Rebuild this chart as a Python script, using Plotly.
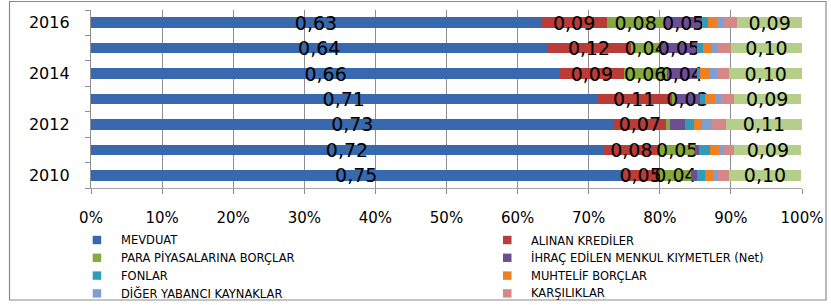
import plotly.graph_objects as go

years = [2010, 2011, 2012, 2013, 2014, 2015, 2016]
year_ticks = [2010, 2012, 2014, 2016]

series_names = [
    "MEVDUAT", "ALINAN KREDİLER", "PARA PİYASALARINA BORÇLAR",
    "İHRAÇ EDİLEN MENKUL KIYMETLER (Net)", "FONLAR", "MUHTELİF BORÇLAR",
    "DİĞER YABANCI KAYNAKLAR", "KARŞILIKLAR", "ÖZKAYNAKLAR",
]
mevduat = [0.746, 0.720, 0.735, 0.711, 0.660, 0.642, 0.633]
alinan = [0.054, 0.080, 0.074, 0.106, 0.089, 0.117, 0.093]
para = [0.044, 0.049, 0.006, 0.005, 0.061, 0.042, 0.080]
ihrac = [0.008, 0.006, 0.020, 0.034, 0.042, 0.052, 0.054]
fonlar = [0.012, 0.015, 0.013, 0.008, 0.004, 0.008, 0.008]
muhtelif = [0.011, 0.013, 0.011, 0.013, 0.014, 0.013, 0.013]
diger = [0.007, 0.006, 0.014, 0.009, 0.010, 0.008, 0.009]
karsilik = [0.015, 0.016, 0.020, 0.018, 0.018, 0.018, 0.018]
ozkaynak = [0.102, 0.094, 0.107, 0.094, 0.102, 0.100, 0.093]

series_values = [mevduat, alinan, para, ihrac, fonlar, muhtelif, diger, karsilik, ozkaynak]
colors = ["#3868AE", "#B93C38", "#86A83E", "#6B4E94", "#2F9CBA", "#EE7F22",
          "#7F9ED2", "#D48888", "#B5CE8A"]
show_in_legend = [True] * 8 + [False]

FONT = "DejaVu Sans"

# plot area geometry (pixels)
W, H = 831, 305
ML, MR, MT, MB = 91, 29, 10, 117
PW, PH = W - ML - MR, H - MT - MB


def px_x(px):
    return (px - ML) / PW


def px_y(py):
    return (H - MB - py) / PH


fig = go.Figure()
for name, vals, col in zip(series_names, series_values, colors):
    labels = [f"{v:.2f}".replace(".", ",") if v >= 0.03 else "" for v in vals]
    fig.add_trace(go.Bar(
        y=years, x=vals, orientation="h", name=name, showlegend=False,
        marker=dict(color=col, line=dict(width=0)),
        width=0.42,
        text=labels, textposition="inside", insidetextanchor="middle",
        textangle=0, constraintext="none",
        insidetextfont=dict(family=FONT, size=19, color="black"),
        hoverinfo="x+y+name",
    ))

# custom two-column legend (Excel style)
shapes = [dict(type="rect", xref="paper", yref="paper",
               x0=px_x(9.5), x1=px_x(826), y0=px_y(300), y1=px_y(1.5),
               line=dict(color="#8C8C8C", width=1.2), fillcolor="rgba(0,0,0,0)",
               layer="above")]
annotations = []
legend_entries = [(n, c) for n, c, s in zip(series_names, colors, show_in_legend) if s]
col_marker_x = [92.7, 503.0]
col_text_x = [118.5, 528.5]
row_y = [240.0, 257.8, 275.6, 293.4]
for i, (name, col) in enumerate(legend_entries):
    r, c = divmod(i, 2)
    cy = row_y[r]
    mx = col_marker_x[c]
    shapes.append(dict(type="rect", xref="paper", yref="paper",
                       x0=px_x(mx), x1=px_x(mx + 8.5),
                       y0=px_y(cy + 4.2), y1=px_y(cy - 4.2),
                       line=dict(width=0), fillcolor=col))
    annotations.append(dict(text=name, xref="paper", yref="paper",
                            x=px_x(col_text_x[c]), y=px_y(cy),
                            xanchor="left", yanchor="middle", showarrow=False,
                            font=dict(family=FONT, size=11.5, color="black")))

fig.update_layout(
    width=W, height=H,
    barmode="stack",
    margin=dict(l=ML, r=MR, t=MT, b=MB, autoexpand=False),
    paper_bgcolor="white", plot_bgcolor="white",
    font=dict(family=FONT, color="black"),
    uniformtext=dict(mode="show", minsize=19),
    showlegend=False,
    shapes=shapes,
    annotations=annotations,
)
fig.update_xaxes(
    range=[0, 1], tickvals=[i / 10 for i in range(11)], tickformat=".0%",
    showgrid=True, gridcolor="#8E8E8E", gridwidth=1.3,
    ticks="outside", ticklen=5, tickcolor="#8E8E8E",
    showline=True, linecolor="#A6A6A6", linewidth=1,
    tickfont=dict(family=FONT, size=15), ticklabelstandoff=11,
    zeroline=False, fixedrange=True,
)
fig.update_yaxes(
    range=[2009.5, 2016.5], tickvals=year_ticks, ticktext=[str(t) for t in year_ticks],
    ticks="", showgrid=False, zeroline=False,
    showline=True, linecolor="#8E8E8E", linewidth=1.3,
    tickfont=dict(family=FONT, size=16), ticklabelstandoff=17,
    minor=dict(tick0=2009.5, dtick=1, ticks="outside", ticklen=5,
               tickcolor="#8E8E8E", showgrid=False),
    fixedrange=True,
)

fig.write_html(
    "out.html",
    config={"displayModeBar": False},
    post_script="document.body.style.margin='0';document.body.style.overflow='hidden';",
)
